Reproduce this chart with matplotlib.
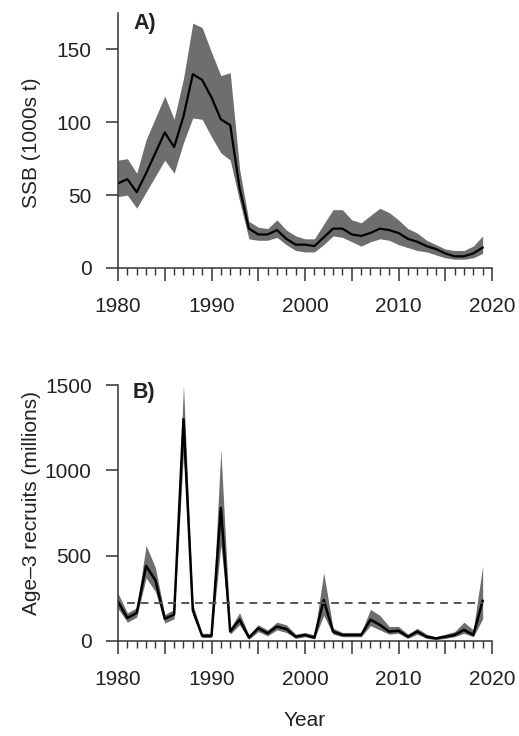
import numpy as np
from matplotlib import pyplot as plt
from matplotlib.ticker import MultipleLocator, FuncFormatter

plt.rcParams['font.family'] = ['Liberation Sans', 'DejaVu Sans']

years = np.arange(1980, 2020)

# spawning stock biomass, 1000s t (estimate and interval)
ssb = [58, 61, 52, 65, 79, 93, 83, 104, 133, 129,
       117, 102, 98, 55, 27, 23, 23, 26, 20, 16,
       16, 15, 21, 27, 27, 23, 22, 24, 27, 26,
       24, 20, 18, 15, 13, 10, 8, 8, 10, 14]
ssb_hi = [74, 75, 65, 88, 103, 118, 102, 130, 168, 165,
          148, 132, 134, 68, 32, 28, 27, 33, 26, 22,
          20, 20, 30, 40, 40, 33, 31, 36, 41, 38,
          33, 27, 24, 19, 16, 13, 12, 12, 15, 22]
ssb_lo = [49, 50, 41, 52, 63, 74, 65, 86, 103, 102,
          90, 79, 74, 46, 20, 19, 19, 21, 16, 12,
          11, 11, 16, 22, 21, 18, 15, 18, 20, 19,
          16, 14, 12, 11, 9, 7, 6, 6, 7, 10]

# age-3 recruits, millions (estimate and interval)
recruits = [230, 135, 165, 440, 355, 130, 155, 1300, 180, 30,
            30, 780, 55, 125, 20, 75, 45, 85, 70, 25,
            35, 20, 240, 55, 35, 35, 35, 125, 95, 55,
            60, 25, 55, 25, 15, 25, 35, 65, 35, 235]
rec_hi = [280, 165, 195, 560, 430, 155, 185, 1500, 215, 45,
          45, 1120, 75, 165, 35, 95, 65, 110, 95, 40,
          50, 35, 400, 75, 50, 50, 50, 185, 150, 85,
          85, 40, 75, 40, 25, 40, 55, 110, 65, 440]
rec_lo = [190, 110, 140, 370, 290, 105, 130, 1100, 150, 20,
          20, 560, 40, 95, 10, 55, 30, 65, 50, 15,
          25, 12, 150, 40, 25, 25, 25, 90, 65, 40,
          45, 15, 40, 15, 8, 15, 25, 45, 25, 130]
rec_mean = 220

ink = '#222222'
band = '#6e6e6e'
fs = 15

fig = plt.figure(figsize=(5.19, 7.36), dpi=100)
axA = fig.add_axes([0.2274, 0.6359, 0.7206, 0.3465])
axB = fig.add_axes([0.2274, 0.1291, 0.7206, 0.3478])

axA.fill_between(years, ssb_lo, ssb_hi, color=band, lw=0)
axA.plot(years, ssb, color='black', lw=1.6)
axA.set_ylim(0, 175)
axA.set_yticks([0, 50, 100, 150])
axA.set_ylabel('SSB (1000s t)', fontsize=fs, color=ink)
axA.yaxis.set_label_coords(-0.205, 0.49)
axA.text(0.04, 0.96, 'A)', transform=axA.transAxes, fontsize=15.5,
         fontweight='bold', color=ink, va='center', ha='left')

axB.fill_between(years, rec_lo, rec_hi, color=band, lw=0)
axB.plot(years, recruits, color='black', lw=1.8)
axB.hlines(rec_mean, 1981, 2019, colors='#555555', linestyles=(0, (4, 3)), lw=1.4)
axB.set_ylim(0, 1500)
axB.set_yticks([0, 500, 1000, 1500])
axB.set_ylabel('Age\u20133 recruits (millions)', fontsize=fs, color=ink)
axB.yaxis.set_label_coords(-0.205, 0.54)
axB.set_xlabel('Year', fontsize=fs, color=ink, labelpad=16)
axB.text(0.04, 0.97, 'B)', transform=axB.transAxes, fontsize=15.5,
         fontweight='bold', color=ink, va='center', ha='left')

# labels every 10 years, long ticks every 5, short ticks every year
decade_only = FuncFormatter(lambda v, p: f'{int(v)}' if round(v) % 10 == 0 else '')

for ax in (axA, axB):
    ax.set_xlim(1980, 2020)
    ax.xaxis.set_major_locator(MultipleLocator(5))
    ax.xaxis.set_major_formatter(decade_only)
    ax.xaxis.set_minor_locator(MultipleLocator(1))
    for s in ('top', 'right'):
        ax.spines[s].set_visible(False)
    for s in ('left', 'bottom'):
        ax.spines[s].set_color('#333333')
        ax.spines[s].set_linewidth(1.1)
    ax.tick_params(which='major', length=9, width=1.1, color='#333333',
                   labelsize=fs, labelcolor=ink)
    ax.tick_params(axis='x', which='major', pad=12)
    ax.tick_params(axis='y', which='major', pad=10)
    ax.tick_params(which='minor', length=5, width=1.0, color='#333333')
    ax.tick_params(axis='y', which='minor', left=False)

fig.savefig('out.png', dpi=100, facecolor='white')
